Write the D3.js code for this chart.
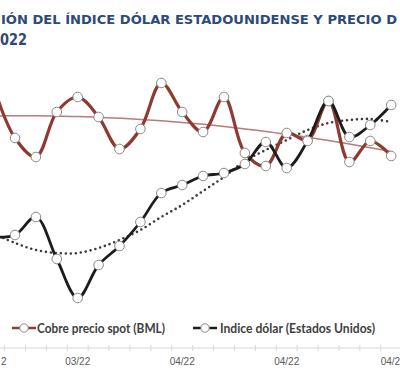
<!DOCTYPE html>
<html><head><meta charset="utf-8">
<script src="https://cdn.jsdelivr.net/npm/d3@7"></script>
<style>html,body{margin:0;padding:0;background:#fff;overflow:hidden}</style>
</head><body><svg id="c" width="400" height="372"></svg>
<script>
// ---- data ----
const categories = ["2022-03-24","2022-03-25","2022-03-28","2022-03-29","2022-03-30","2022-03-31","2022-04-01","2022-04-04","2022-04-05","2022-04-06","2022-04-07","2022-04-08","2022-04-11","2022-04-12","2022-04-13","2022-04-14","2022-04-18","2022-04-19","2022-04-20","2022-04-21"];
const copper = [4.96,4.71,4.615,4.84,4.915,4.815,4.655,4.755,4.985,4.84,4.74,4.915,4.635,4.57,4.735,4.70,4.895,4.59,4.695,4.62];
const dollar = [98.06,98.10,98.46,97.62,96.84,97.50,97.88,98.36,98.94,99.10,99.28,99.34,99.52,99.96,99.44,99.98,100.78,100.06,100.30,100.70];
const copperTrend = [4.820,4.821,4.821,4.820,4.817,4.814,4.809,4.803,4.796,4.788,4.779,4.768,4.755,4.743,4.729,4.714,4.698,4.680,4.661,4.642];
const dollarTrend = [98.12,97.94,97.80,97.74,97.74,97.84,98.00,98.20,98.46,98.70,98.98,99.26,99.58,99.80,100.00,100.20,100.34,100.40,100.42,100.36];
const tickDates = ["2022-03-24","2022-03-30","2022-04-06","2022-04-13","2022-04-21"];
const tickLabels = ["2","03/22","04/22","04/22","04/2"];   // visible parts of the edge labels
const seriesNames = ["Cobre precio spot (BML)","Indice dólar (Estados Unidos)"];
const titleLines = ["IÓN DEL ÍNDICE DÓLAR ESTADOUNIDENSE Y PRECIO D","022"];

// ---- chart ----
const svg = d3.select("#c");
const red = "#8f3a30", black = "#1c1c1c";

const x = d3.scalePoint().domain(categories).range([-5.9, 391.2]);
const yCopper = d3.scaleLinear().domain([4.4, 5.0]).range([200, 80]);
const yDollar = d3.scaleLinear().domain([96, 101]).range([340, 90]);

// title
svg.append("text").attr("x", 1).attr("y", 24)
  .attr("font-family", "DejaVu Sans").attr("font-weight", "bold").attr("font-size", 12.5)
  .attr("fill", "#2d4a78").attr("textLength", 396).attr("lengthAdjust", "spacingAndGlyphs")
  .text(titleLines[0]);
svg.append("text").attr("x", 0).attr("y", 45)
  .attr("font-family", "DejaVu Sans").attr("font-weight", "bold").attr("font-size", 16)
  .attr("fill", "#2d4a78").attr("textLength", 27).attr("lengthAdjust", "spacingAndGlyphs")
  .text(titleLines[1]);

// x axis
const axisY = 348;
svg.append("line").attr("x1", 0).attr("x2", 400).attr("y1", axisY).attr("y2", axisY)
  .attr("stroke", "#d9d9d9").attr("stroke-width", 1);
const step = x.step();
categories.forEach(c => {
  svg.append("line").attr("x1", x(c) + step / 2).attr("x2", x(c) + step / 2)
    .attr("y1", axisY - 3).attr("y2", axisY + 3).attr("stroke", "#d9d9d9");
});
const nT = tickDates.length;
svg.append("g").selectAll("text").data(tickDates).join("text")
  .attr("x", (d, i) => i === 0 ? x(d) + 12.5 : (i === nT - 1 ? x(d) - 10.5 : x(d)))
  .attr("y", 365)
  .attr("text-anchor", (d, i) => i === 0 ? "end" : (i === nT - 1 ? "start" : "middle"))
  .attr("font-family", "Liberation Sans").attr("font-size", 10).attr("fill", "#595959")
  .text((d, i) => tickLabels[i]);

// trend lines
const lineTrendC = d3.line().x((d, i) => x(categories[i])).y(d => yCopper(d)).curve(d3.curveCatmullRom.alpha(0.5));
const lineTrendD = d3.line().x((d, i) => x(categories[i])).y(d => yDollar(d)).curve(d3.curveCatmullRom.alpha(0.5));
svg.append("path").attr("d", lineTrendC(copperTrend)).attr("fill", "none")
  .attr("stroke", "#b77b78").attr("stroke-width", 1.5);
svg.append("path").attr("d", lineTrendD(dollarTrend)).attr("fill", "none")
  .attr("stroke", "#3a3a3a").attr("stroke-width", 2.6).attr("stroke-linecap", "round")
  .attr("stroke-dasharray", "0 5");

// series lines
const lineC = d3.line().x((d, i) => x(categories[i])).y(d => yCopper(d)).curve(d3.curveCatmullRom.alpha(0.5));
const lineD = d3.line().x((d, i) => x(categories[i])).y(d => yDollar(d)).curve(d3.curveCatmullRom.alpha(0.5));
svg.append("path").attr("d", lineC(copper)).attr("fill", "none")
  .attr("stroke", red).attr("stroke-width", 3.2);
svg.append("g").selectAll("circle").data(copper).join("circle")
  .attr("cx", (d, i) => x(categories[i])).attr("cy", d => yCopper(d)).attr("r", 4.8)
  .attr("fill", "#fff").attr("stroke", "#8a8a8a").attr("stroke-width", 1);
svg.append("path").attr("d", lineD(dollar)).attr("fill", "none")
  .attr("stroke", black).attr("stroke-width", 2.8);
svg.append("g").selectAll("circle").data(dollar).join("circle")
  .attr("cx", (d, i) => x(categories[i])).attr("cy", d => yDollar(d)).attr("r", 4.8)
  .attr("fill", "#fff").attr("stroke", "#8a8a8a").attr("stroke-width", 1);

// legend
const legend = [
  { name: seriesNames[0], color: red, x0: 12, tx: 37, tw: 128 },
  { name: seriesNames[1], color: black, x0: 193, tx: 220, tw: 155 }
];
const ly = 328;
legend.forEach(l => {
  svg.append("line").attr("x1", l.x0).attr("x2", l.x0 + 24).attr("y1", ly).attr("y2", ly)
    .attr("stroke", l.color).attr("stroke-width", 2.5);
  svg.append("circle").attr("cx", l.x0 + 12).attr("cy", ly).attr("r", 4.2)
    .attr("fill", "#fff").attr("stroke", "#8a8a8a");
  svg.append("text").attr("x", l.tx).attr("y", ly + 5)
    .attr("font-family", "Lato").attr("font-weight", "bold").attr("font-size", 14)
    .attr("fill", "#404040").attr("textLength", l.tw).attr("lengthAdjust", "spacingAndGlyphs")
    .text(l.name);
});
</script>
</body></html>
